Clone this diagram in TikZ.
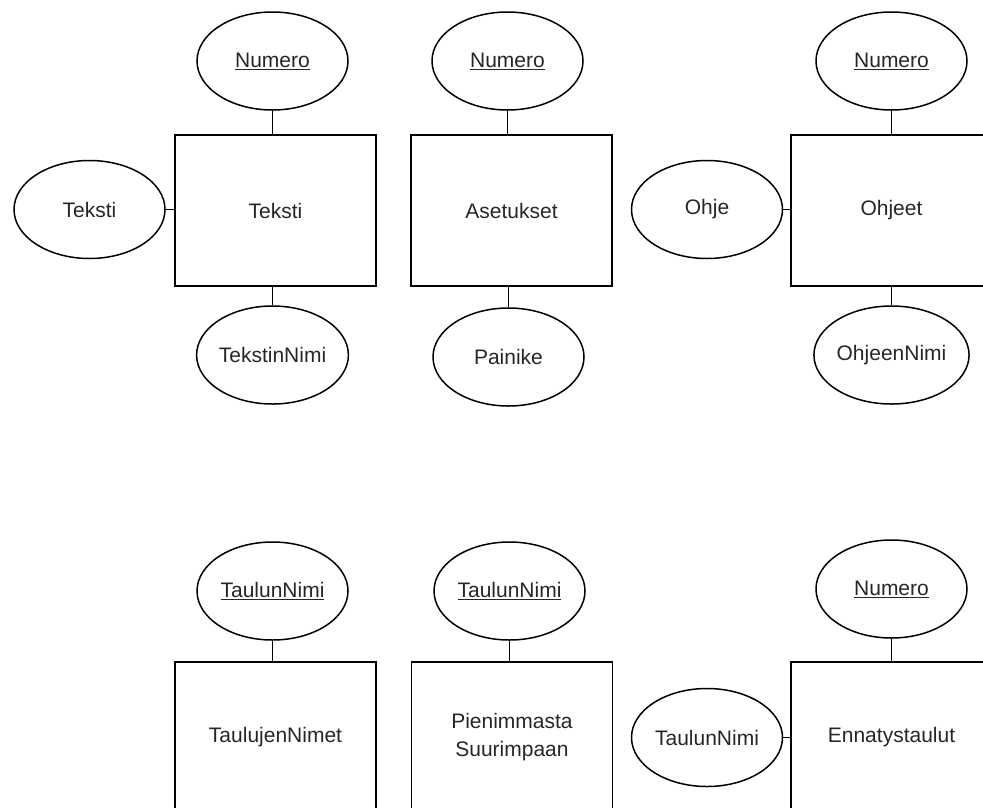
\documentclass[tikz,border=0pt]{standalone}
\usepackage{fontspec}
\setmainfont{Liberation Sans}
\usetikzlibrary{shapes.geometric}

\tikzset{
  entity/.style={draw, line width=1.8pt, rectangle, minimum width=201pt,
    minimum height=151pt, inner sep=0pt, align=center},
  attr/.style={draw, line width=1.5pt, ellipse, minimum width=151pt,
    minimum height=98pt, inner sep=0pt},
  link/.style={line width=1.8pt},
  every node/.style={font=\fontsize{21}{28}\selectfont, text=black!85}
}

\newcommand{\keyattr}[1]{\underline{#1}}

\begin{document}
\begin{tikzpicture}[x=1pt, y=-1pt]
  \useasboundingbox (0,0) rectangle (983,807);
  \clip (0,0) rectangle (983,807);

  % upper row: entities
  \node[entity] (teksti)    at (275.5,210.5) {Teksti};
  \node[entity] (asetukset) at (511.5,210.5) {Asetukset};
  \node[entity] (ohjeet)    at (891.5,210.5) {Ohjeet};

  % upper row: attributes
  \node[attr] (tnum)   at (272.5,61)    {\keyattr{Numero}};
  \node[attr] (ttxt)   at (89.5,209.5)  {Teksti};
  \node[attr] (tnimi)  at (272.5,355)   {TekstinNimi};

  \node[attr] (anum)   at (507.5,61)    {\keyattr{Numero}};
  \node[attr] (apain)  at (508.5,357)   {Painike};

  \node[attr] (onum)   at (891.5,61)    {\keyattr{Numero}};
  \node[attr] (oohje)  at (707,209.5)   {Ohje};
  \node[attr] (onimi)  at (891.5,355)   {OhjeenNimi};

  % lower row: entities
  \node[entity] (taulut)  at (275.5,737.5) {TaulujenNimet};
  \node[entity] (pienin)  at (512,737.5)   {Pienimmasta\\Suurimpaan};
  \node[entity] (ennatys) at (891.5,737.5) {Ennatystaulut};

  % lower row: attributes
  \node[attr] (tntaulu) at (272.5,591)   {\keyattr{TaulunNimi}};
  \node[attr] (pntaulu) at (509.5,591)   {\keyattr{TaulunNimi}};
  \node[attr] (ennum)   at (891.5,589)   {\keyattr{Numero}};
  \node[attr] (entaulu) at (707,737.5)   {TaulunNimi};

  % connectors
  \draw[link] (tnum.south)    -- (tnum.south |- teksti.north);
  \draw[link] (tnimi.north)   -- (tnimi.north |- teksti.south);
  \draw[link] (ttxt.east)     -- (ttxt.east -| teksti.west);

  \draw[link] (anum.south)    -- (anum.south |- asetukset.north);
  \draw[link] (apain.north)   -- (apain.north |- asetukset.south);

  \draw[link] (onum.south)    -- (onum.south |- ohjeet.north);
  \draw[link] (onimi.north)   -- (onimi.north |- ohjeet.south);
  \draw[link] (oohje.east)    -- (oohje.east -| ohjeet.west);

  \draw[link] (tntaulu.south) -- (tntaulu.south |- taulut.north);
  \draw[link] (pntaulu.south) -- (pntaulu.south |- pienin.north);
  \draw[link] (ennum.south)   -- (ennum.south |- ennatys.north);
  \draw[link] (entaulu.east)  -- (entaulu.east -| ennatys.west);
\end{tikzpicture}
\end{document}
